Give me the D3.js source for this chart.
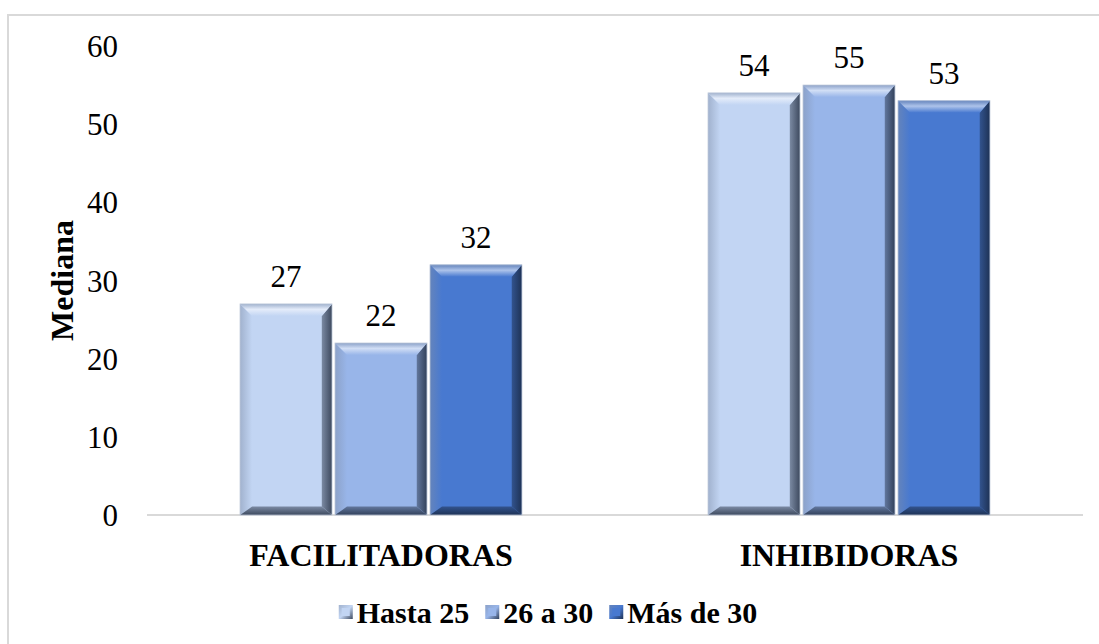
<!DOCTYPE html>
<html>
<head>
<meta charset="utf-8">
<script src="https://cdn.jsdelivr.net/npm/d3@7"></script>
<style>
  html, body { margin: 0; padding: 0; background: #fff; }
  svg { display: block; }
</style>
</head>
<body>
<svg id="chart" width="1099" height="644"></svg>
<script>
// Median scores by age group for each type of factor
const categories = ["FACILITADORAS", "INHIBIDORAS"];
const seriesNames = ["Hasta 25", "26 a 30", "Más de 30"];
const hasta25 = [27, 54];
const de26a30 = [22, 55];
const masDe30 = [32, 53];
const yTicks = [0, 10, 20, 30, 40, 50, 60];
const yTitle = "Mediana";

const seriesValues = [hasta25, de26a30, masDe30];
const seriesColors = ["#c2d5f3", "#98b5e9", "#4879d0"];
const FONT = "Liberation Serif";

const W = 1099, H = 644;
const margin = { left: 147, right: 16, top: 46, bottom: 129 };
const svg = d3.select("#chart");

// chart frame
svg.append("rect")
  .attr("x", 8).attr("y", 15)
  .attr("width", W + 10).attr("height", H + 10)
  .attr("fill", "none").attr("stroke", "#d9d9d9").attr("stroke-width", 2);

const x0 = d3.scaleBand().domain(categories)
  .range([margin.left, W - margin.right]).paddingInner(0).paddingOuter(0);
const x1 = d3.scaleBand().domain(seriesNames)
  .range([0, x0.bandwidth()]).paddingInner(0.032).paddingOuter(0.98);
const y = d3.scaleLinear().domain([0, 60]).range([H - margin.bottom, margin.top]);

const defs = svg.append("defs");

// bevel gradients per series
seriesColors.forEach((c, i) => {
  const base = d3.color(c);
  const hi = d3.interpolateRgb(c, "#ffffff")(0.55);
  const mid = d3.interpolateRgb(c, "#7f8fa8")(0.5);
  const dark = d3.interpolateRgb(c, "#101a2c")(0.75);
  const darkMid = d3.interpolateRgb(c, "#101a2c")(0.4);

  const top = defs.append("linearGradient").attr("id", "top" + i)
    .attr("x1", 0).attr("y1", 0).attr("x2", 0).attr("y2", 1);
  top.append("stop").attr("offset", 0).attr("stop-color", mid);
  top.append("stop").attr("offset", 0.45).attr("stop-color", hi);
  top.append("stop").attr("offset", 1).attr("stop-color", base.formatHex());

  const left = defs.append("linearGradient").attr("id", "left" + i)
    .attr("x1", 0).attr("y1", 0).attr("x2", 1).attr("y2", 0);
  left.append("stop").attr("offset", 0).attr("stop-color", mid);
  left.append("stop").attr("offset", 1).attr("stop-color", base.formatHex());

  const right = defs.append("linearGradient").attr("id", "right" + i)
    .attr("x1", 0).attr("y1", 0).attr("x2", 1).attr("y2", 0);
  right.append("stop").attr("offset", 0).attr("stop-color", darkMid);
  right.append("stop").attr("offset", 1).attr("stop-color", dark);

  const bottom = defs.append("linearGradient").attr("id", "bottom" + i)
    .attr("x1", 0).attr("y1", 0).attr("x2", 0).attr("y2", 1);
  bottom.append("stop").attr("offset", 0).attr("stop-color", darkMid);
  bottom.append("stop").attr("offset", 1).attr("stop-color", dark);

  // legend marker gradient
  const lg = defs.append("linearGradient").attr("id", "leg" + i)
    .attr("x1", 0).attr("y1", 0).attr("x2", 1).attr("y2", 1);
  lg.append("stop").attr("offset", 0).attr("stop-color", mid);
  lg.append("stop").attr("offset", 0.5).attr("stop-color", base.formatHex());
  lg.append("stop").attr("offset", 1).attr("stop-color", dark);
});

// y axis tick labels (no axis line, no gridlines)
const yAxis = d3.axisLeft(y).tickValues(yTicks).tickSize(0).tickPadding(0);
const yg = svg.append("g").attr("transform", `translate(${margin.left - 29},0)`).call(yAxis);
yg.attr("font-family", FONT).attr("font-size", 31);
yg.select(".domain").remove();
yg.selectAll("text").attr("fill", "#000").attr("dy", "0.34em");

// axis title
svg.append("text")
  .attr("transform", `translate(73,${y(30)}) rotate(-90)`)
  .attr("text-anchor", "middle")
  .attr("font-family", FONT)
  .attr("font-size", 32).attr("font-weight", "bold")
  .text(yTitle);

// baseline
svg.append("line")
  .attr("x1", margin.left).attr("x2", W - margin.right)
  .attr("y1", y(0)).attr("y2", y(0))
  .attr("stroke", "#d9d9d9").attr("stroke-width", 2);

// bars
const bars = [];
categories.forEach((cat, ci) => {
  seriesNames.forEach((s, si) => {
    bars.push({ cat, s, si, v: seriesValues[si][ci] });
  });
});

const bevel = 12;
const g = svg.append("g");
bars.forEach(d => {
  const bx0 = x0(d.cat) + x1(d.s);
  const bx1 = bx0 + x1.bandwidth();
  const by0 = y(d.v);
  const by1 = y(0);
  const b = Math.min(bevel, (by1 - by0) / 2);
  const bg = g.append("g");
  bg.append("rect").attr("x", bx0).attr("y", by0)
    .attr("width", bx1 - bx0).attr("height", by1 - by0)
    .attr("fill", seriesColors[d.si]);
  const poly = pts => "M" + pts.map(p => p.join(",")).join("L") + "Z";
  bg.append("path").attr("fill", `url(#left${d.si})`)
    .attr("d", poly([[bx0, by0], [bx0 + b, by0 + b], [bx0 + b, by1 - b * 0.7], [bx0, by1]]));
  bg.append("path").attr("fill", `url(#right${d.si})`)
    .attr("d", poly([[bx1, by0], [bx1 - b * 0.85, by0 + b], [bx1 - b * 0.85, by1 - b * 0.7], [bx1, by1]]));
  bg.append("path").attr("fill", `url(#top${d.si})`)
    .attr("d", poly([[bx0, by0], [bx1, by0], [bx1 - b * 0.85, by0 + b], [bx0 + b, by0 + b]]));
  bg.append("path").attr("fill", `url(#bottom${d.si})`)
    .attr("d", poly([[bx0, by1], [bx0 + b, by1 - b * 0.7], [bx1 - b * 0.85, by1 - b * 0.7], [bx1, by1]]));
  bg.append("rect").attr("x", bx0).attr("y", by0)
    .attr("width", bx1 - bx0).attr("height", by1 - by0)
    .attr("fill", "none").attr("stroke", "#b8c4d6").attr("stroke-width", 0.8);

  // value label
  svg.append("text")
    .attr("x", (bx0 + bx1) / 2).attr("y", by0 - 17)
    .attr("text-anchor", "middle")
    .attr("font-family", FONT)
    .attr("font-size", 31)
    .text(d.v);
});

// category labels
categories.forEach(cat => {
  svg.append("text")
    .attr("x", x0(cat) + x0.bandwidth() / 2).attr("y", y(0) + 51)
    .attr("text-anchor", "middle")
    .attr("font-family", FONT)
    .attr("font-size", 32).attr("font-weight", "bold")
    .text(cat);
});

// legend, laid out from measured text widths and centred under the plot
const legY = 612, markerSize = 14, markerGap = 4, itemGap = 16;
const legend = svg.append("g");
const items = seriesNames.map((s, i) => {
  const it = legend.append("g");
  it.append("rect").attr("x", 0).attr("y", -markerSize / 2)
    .attr("width", markerSize).attr("height", markerSize)
    .attr("fill", `url(#leg${i})`);
  it.append("rect").attr("x", 3).attr("y", -markerSize / 2 + 3)
    .attr("width", markerSize - 6).attr("height", markerSize - 6)
    .attr("fill", seriesColors[i]);
  const t = it.append("text").attr("x", markerSize + markerGap).attr("y", 0).attr("dy", "0.35em")
    .attr("font-family", FONT)
    .attr("font-size", 30).attr("font-weight", "bold")
    .text(s);
  return { it, w: markerSize + markerGap + t.node().getComputedTextLength() };
});
const totalW = d3.sum(items, d => d.w) + itemGap * (items.length - 1);
let lx = 548 - totalW / 2;
items.forEach(d => {
  d.it.attr("transform", `translate(${lx},${legY})`);
  lx += d.w + itemGap;
});
</script>
</body>
</html>
